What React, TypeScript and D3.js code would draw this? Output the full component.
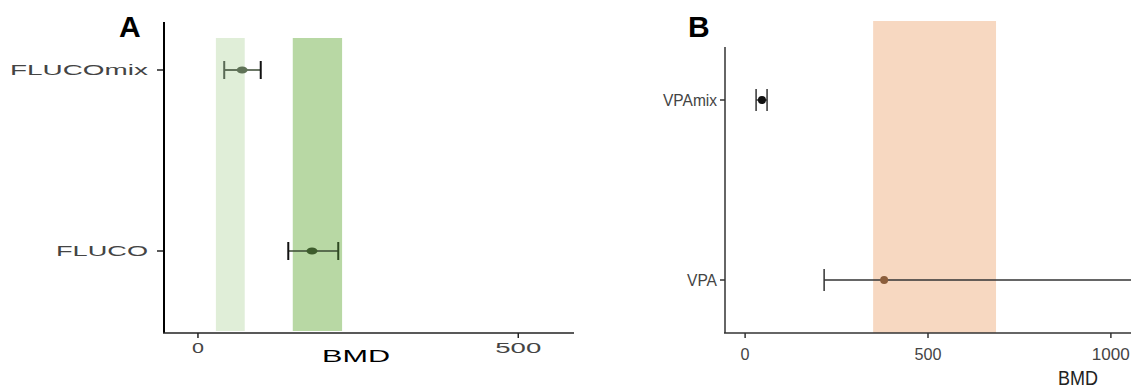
import React from 'react';
import * as d3 from 'd3';

// panel A (fluconazole)
const flucoCats = ['FLUCOmix', 'FLUCO'];
const flucoBmd = [69, 178];
const flucoLower = [41, 141];
const flucoUpper = [98, 219];
const flucoPointColors = ['#5f7257', '#3d5c2c'];
const flucoBands = [
  { from: 28, to: 73, color: '#e0eed8' },
  { from: 148, to: 225, color: '#b8d8a4' },
];
const flucoTicks = [0, 500];

// panel B (valproic acid)
const vpaCats = ['VPAmix', 'VPA'];
const vpaBmd = [46, 380];
const vpaLower = [30, 216];
const vpaUpper = [60, 1400];
const vpaPointColors = ['#111111', '#8b5e3c'];
const vpaBands = [{ from: 350, to: 686, color: '#f7d8c1' }];
const vpaTicks = [0, 500, 1000];

const App = () => {
  // ---- panel A scales
  const xA = d3.scaleLinear().domain([-53, 587]).range([164, 574]);
  const yA = d3.scalePoint().domain(flucoCats).range([70, 251]);
  const axisA = 333;

  // ---- panel B scales
  const xB = d3.scaleLinear().domain([-55, 1055]).range([725, 1131]);
  const yB = d3.scalePoint().domain(vpaCats).range([100, 280]);
  const axisB = 333;

  // label widths (fonts are stretched / condensed there)
  const wideLabel: Record<string, number> = { FLUCOmix: 138, FLUCO: 92, VPAmix: 54, VPA: 30 };
  const tickWidthA: Record<number, number> = { 0: 12, 500: 46 };
  const tickWidthB: Record<number, number> = { 0: 9, 500: 27, 1000: 38 };

  return (
    <svg width={1131} height={388} style={{ position: 'absolute', left: 0, top: 0, background: '#fff' }}
      fontFamily="Liberation Sans, Arial, sans-serif">
      {/* ================= A ================= */}
      <text x={119} y={37} fontSize={30} fontWeight="bold" fill="#000">A</text>
      {flucoBands.map((b, i) => (
        <rect key={i} x={xA(b.from)} width={xA(b.to) - xA(b.from)} y={38} height={axisA - 2 - 38} fill={b.color} />
      ))}
      {flucoCats.map((c, i) => {
        const y = yA(c)!;
        return (
          <g key={c}>
            <line x1={xA(flucoLower[i])} x2={xA(flucoUpper[i])} y1={y} y2={y} stroke="#3a4a33" strokeWidth={1.6} />
            <line x1={xA(flucoLower[i])} x2={xA(flucoLower[i])} y1={y - 9} y2={y + 9} stroke={i === 0 ? '#5a6a55' : '#111'} strokeWidth={2} />
            <line x1={xA(flucoUpper[i])} x2={xA(flucoUpper[i])} y1={y - 9} y2={y + 9} stroke={i === 0 ? '#111' : '#2f4a22'} strokeWidth={2} />
            <ellipse cx={xA(flucoBmd[i])} cy={y} rx={5.5} ry={3.5} fill={flucoPointColors[i]} />
            <line x1={157} x2={164} y1={y} y2={y} stroke="#222" strokeWidth={1.5} />
            <text x={148} y={y + 5} textAnchor="end" fontSize={14} fill="#444"
              textLength={wideLabel[c]} lengthAdjust="spacingAndGlyphs">{c}</text>
          </g>
        );
      })}
      <line x1={164} x2={164} y1={22} y2={axisA} stroke="#000" strokeWidth={2} />
      <line x1={163} x2={574} y1={axisA} y2={axisA} stroke="#222" strokeWidth={1.5} />
      {flucoTicks.map(t => (
        <g key={t}>
          <line x1={xA(t)} x2={xA(t)} y1={axisA} y2={axisA + 5} stroke="#222" strokeWidth={1.5} />
          <text x={xA(t)} y={axisA + 20} textAnchor="middle" fontSize={14} fill="#444"
            textLength={tickWidthA[t]} lengthAdjust="spacingAndGlyphs">{t}</text>
        </g>
      ))}
      <text x={356} y={362} textAnchor="middle" fontSize={17} fill="#000"
        textLength={68} lengthAdjust="spacingAndGlyphs">BMD</text>

      {/* ================= B ================= */}
      <text x={688} y={37} fontSize={30} fontWeight="bold" fill="#000">B</text>
      {vpaBands.map((b, i) => (
        <rect key={i} x={xB(b.from)} width={xB(b.to) - xB(b.from)} y={21} height={axisB - 21} fill={b.color} />
      ))}
      {vpaCats.map((c, i) => {
        const y = yB(c)!;
        const hi = Math.min(vpaUpper[i], xB.domain()[1]);
        return (
          <g key={c}>
            <line x1={xB(vpaLower[i])} x2={xB(hi)} y1={y} y2={y} stroke="#333" strokeWidth={1.5} />
            <line x1={xB(vpaLower[i])} x2={xB(vpaLower[i])} y1={y - 11} y2={y + 11} stroke="#333" strokeWidth={1.5} />
            {vpaUpper[i] <= xB.domain()[1] && (
              <line x1={xB(vpaUpper[i])} x2={xB(vpaUpper[i])} y1={y - 11} y2={y + 11} stroke="#333" strokeWidth={1.5} />
            )}
            <circle cx={xB(vpaBmd[i])} cy={y} r={4} fill={vpaPointColors[i]} />
            <line x1={720} x2={725} y1={y} y2={y} stroke="#333" strokeWidth={1.5} />
            <text x={717} y={y + 6} textAnchor="end" fontSize={17} fill="#444"
              textLength={wideLabel[c]} lengthAdjust="spacingAndGlyphs">{c}</text>
          </g>
        );
      })}
      <line x1={725} x2={725} y1={47} y2={axisB} stroke="#333" strokeWidth={1.5} />
      <line x1={724} x2={1131} y1={axisB} y2={axisB} stroke="#333" strokeWidth={1.5} />
      {vpaTicks.map(t => (
        <g key={t}>
          <line x1={xB(t)} x2={xB(t)} y1={axisB} y2={axisB + 5} stroke="#333" strokeWidth={1.5} />
          <text x={xB(t)} y={axisB + 27} textAnchor="middle" fontSize={16} fill="#444"
            textLength={tickWidthB[t]} lengthAdjust="spacingAndGlyphs">{t}</text>
        </g>
      ))}
      <text x={1078} y={385} textAnchor="middle" fontSize={20} fill="#222"
        textLength={40} lengthAdjust="spacingAndGlyphs">BMD</text>
    </svg>
  );
};

export default App;
